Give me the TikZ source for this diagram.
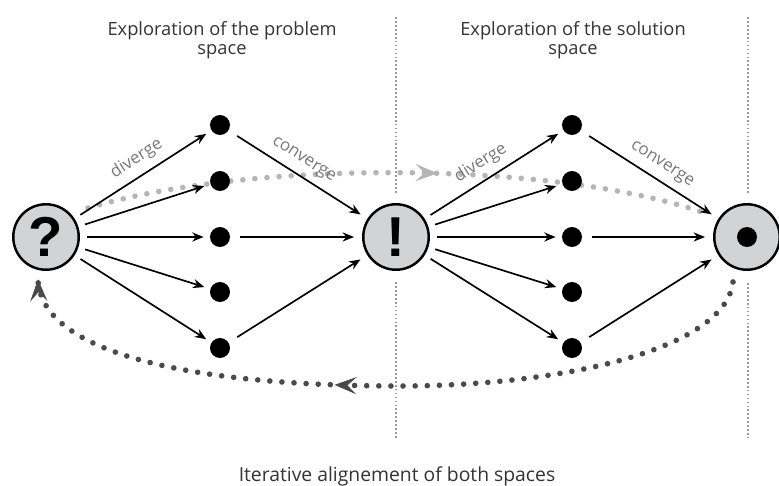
\documentclass[tikz,border=0pt]{standalone}
\usepackage{fontspec}
\setmainfont{Open Sans}
\newfontfamily\signfont{Liberation Sans}
\usetikzlibrary{arrows.meta,decorations.markings}

\begin{document}
\begin{tikzpicture}[x=0.02cm,y=-0.02cm,
  every node/.style={text=r51g51b51, font=\fontsize{10.4}{11.3}\selectfont},
  bubble/.style={circle, draw=black, line width=1.4pt, fill=r209g211b212, minimum size=1.31cm, inner sep=0pt, font=\signfont\bfseries\fontsize{32}{32}\selectfont, text=black},
  spot/.style={circle, fill=black, minimum size=0.4cm, inner sep=0pt},
  flow/.style={-{Stealth[length=6.5pt,width=5.2pt]}, line width=0.95pt},
  diverging/.style={flow, shorten <=0.14cm, shorten >=0.12cm},
  converging/.style={flow, shorten <=0.2cm, shorten >=0.16cm},
  tag/.style={text=r119g119b119, font=\fontsize{9.6}{11}\selectfont, sloped, above=1pt},
  sepline/.style={r153g153b153, line width=0.7pt, dash pattern=on 1pt off 1.25pt},
  loopline/.style={line width=3.2pt, line cap=round, dash pattern=on 0pt off 6.9pt},
  loophead/.tip={Stealth[length=12.5pt,width=9.8pt,inset=5.2pt,line width=0.5pt]}]
\useasboundingbox (0,0) rectangle (779,486);%

% Changing colors
\definecolor{r51g51b51}{rgb}{0.200000,0.200000,0.200000}%
\definecolor{r119g119b119}{rgb}{0.466667,0.466667,0.466667}%
\definecolor{r153g153b153}{rgb}{0.600000,0.600000,0.600000}%
\definecolor{r181g181b181}{rgb}{0.709804,0.709804,0.709804}%
\definecolor{r74g74b74}{rgb}{0.290196,0.290196,0.290196}%
\definecolor{r209g211b212}{rgb}{0.819608,0.827451,0.831373}%

% Drawing the separators
\draw [sepline] (396,17) -- (396,193);%
\draw [sepline] (396,282) -- (396,438);%
\draw [sepline] (748,17) -- (748,193);%
\draw [sepline] (748,283) -- (748,438);%

% Drawing the alignment loop
\coordinate (fwdstart) at (88,208);%
\coordinate (fwdend) at (705,213);%
\coordinate (backstart) at (733,282);%
\coordinate (backmid) at (400,386);%
\coordinate (backend) at (38,279);%
\draw [loopline, r181g181b181, postaction={decorate},
  decoration={markings, mark=at position 0.565 with {\arrow{loophead}}}]
  (fwdstart) .. controls (250,160) and (550,160) .. (fwdend);%
\draw [loopline, r74g74b74, postaction={decorate},
  decoration={markings, mark=at position 0.563 with {\arrow{loophead}},
    mark=at position 0.9995 with {\arrow{loophead}}}]
  (backstart) .. controls (725,350) and (560,386) .. (backmid) .. controls (180,386) and (40,350) .. (backend);%

% Drawing the titles
\node [align=center, anchor=base] (probtitle) at (222,55) {Exploration of the problem\\space};%
\node [align=center, anchor=base] (soltitle) at (573,55) {Exploration of the solution\\space};%
\node [anchor=base, font=\fontsize{11}{13}\selectfont] (loopcaption) at (397,482) {Iterative alignement of both spaces};%

% Drawing the circles
\node [bubble] (question) at (46,237) {?};%
\node [bubble] (answer) at (396,237) {!};%
\node [bubble] (goal) at (747,237) {};%
\node [spot] (goalcore) at (goal) {};%

% Drawing the option dots
\foreach \i/\y in {1/125,2/181,3/237,4/292,5/348} {
  \node [spot] (prob\i) at (220,\y) {};%
  \node [spot] (sol\i) at (572,\y) {};%
}

% Drawing problem space
\draw [diverging] (question) -- (prob1) node [tag, pos=0.52] {diverge};%
\foreach \i in {2,...,5}
  \draw [diverging] (question) -- (prob\i);%
\draw [converging] (prob1) -- (answer) node [tag, pos=0.48] {converge};%
\draw [converging] (prob3) -- (answer);%
\draw [converging] (prob5) -- (answer);%

% Drawing solution space
\draw [diverging] (answer) -- (sol1) node [tag, pos=0.47] {diverge};%
\foreach \i in {2,...,5}
  \draw [diverging] (answer) -- (sol\i);%
\draw [converging] (sol1) -- (goal) node [tag, pos=0.53] {converge};%
\draw [converging] (sol3) -- (goal);%
\draw [converging] (sol5) -- (goal);%
\end{tikzpicture}
\end{document}
